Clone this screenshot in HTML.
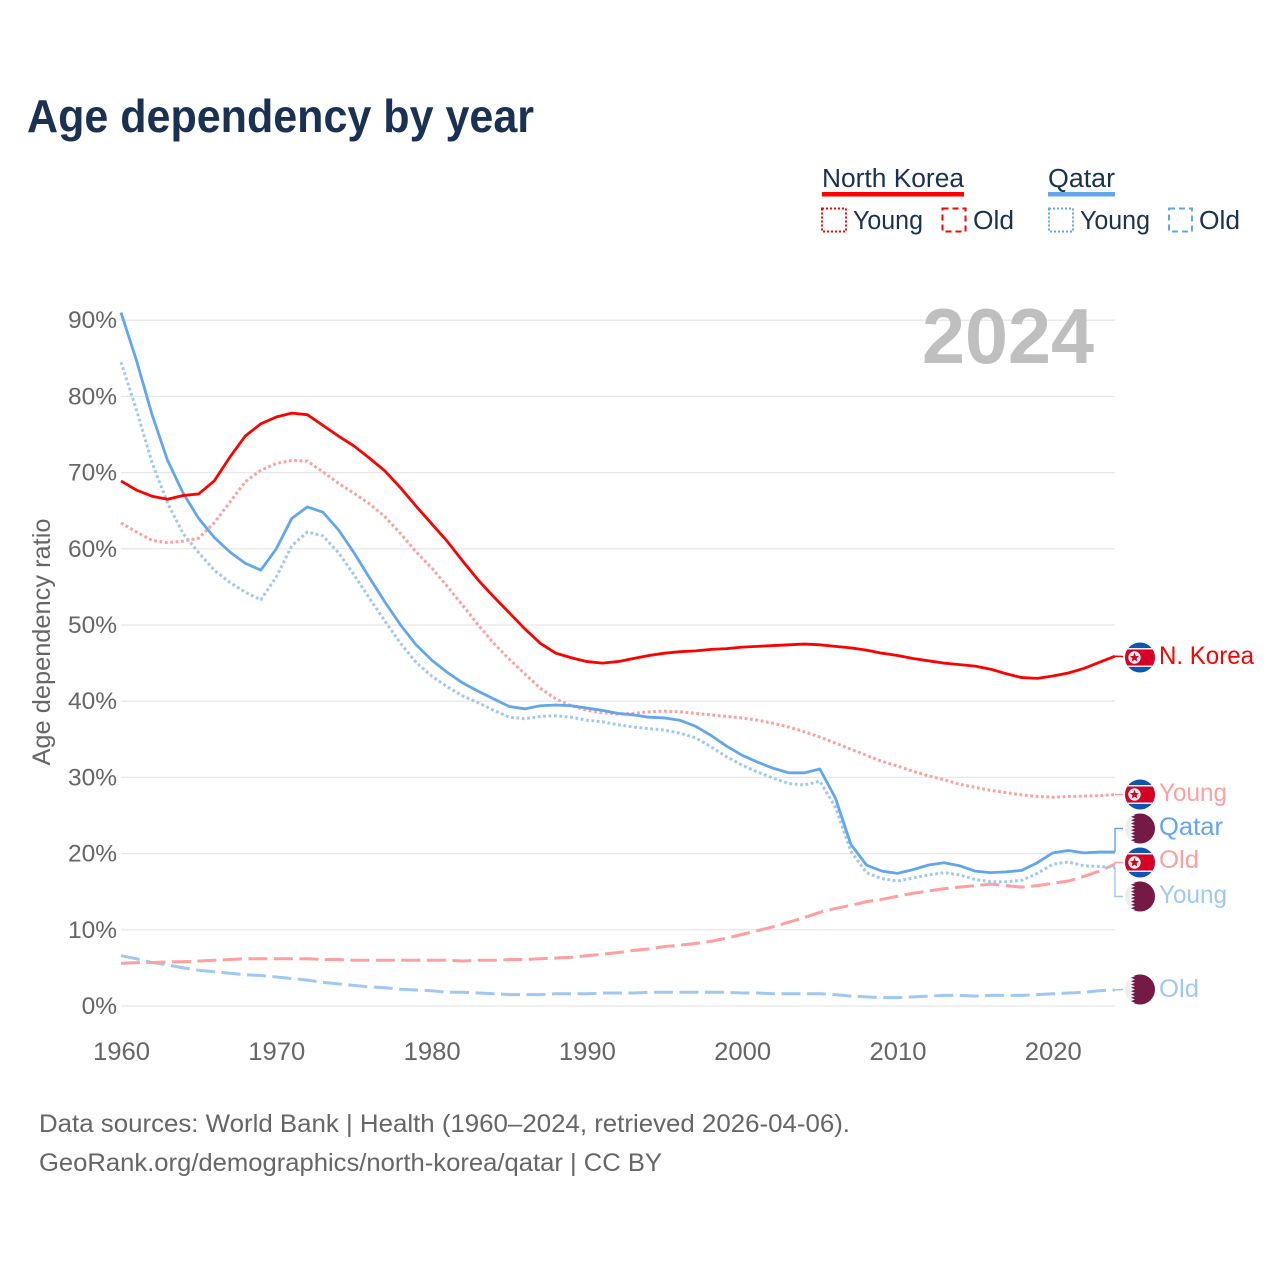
<!DOCTYPE html>
<html lang="en">
<head>
<meta charset="utf-8">
<title>Age dependency by year</title>
<style>
html,body{margin:0;padding:0;background:#fff;}
svg{display:block;}
text{font-family:"Liberation Sans",sans-serif;}
</style>
</head>
<body>
<svg id="chart" xmlns="http://www.w3.org/2000/svg" width="1280" height="1280" viewBox="0 0 1280 1280">
<defs>
<clipPath id="flag-clip"><circle cx="0" cy="0" r="15"></circle></clipPath>
<g id="flag-nk" clip-path="url(#flag-clip)">
<rect x="-15" y="-15" width="30" height="30" fill="#0f56b3"></rect>
<rect x="-15" y="-9.5" width="30" height="19" fill="#f0f0f0"></rect>
<rect x="-15" y="-8" width="30" height="16" fill="#d80027"></rect>
<circle cx="-5.5" cy="0" r="6.2" fill="#f0f0f0"></circle>
<polygon points="-5.5,-4.8 -4.2,-1.5 -1,-1.4 -3.4,0.8 -2.7,4 -5.5,2.3 -8.3,4 -7.6,0.8 -10,-1.4 -6.8,-1.5" fill="#d80027"></polygon>
</g>
<g id="flag-qa" clip-path="url(#flag-clip)">
<rect x="-15" y="-15" width="30" height="30" fill="#eeeeee"></rect>
<polygon points="-9,-15 15,-15 15,15 -9,15 -5,13.3 -9,11.7 -5,10 -9,8.3 -5,6.7 -9,5 -5,3.3 -9,1.7 -5,0 -9,-1.7 -5,-3.3 -9,-5 -5,-6.7 -9,-8.3 -5,-10 -9,-11.7 -5,-13.3" fill="#751a46"></polygon>
</g>
</defs>

<text x="27" y="132" font-size="46" font-weight="700" fill="#1a3152" textLength="507" lengthAdjust="spacingAndGlyphs">Age dependency by year</text>

<g>
<text x="822" y="187" font-size="25.5" fill="#1a3152" textLength="142" lengthAdjust="spacingAndGlyphs">North Korea</text>
<rect x="822" y="192" width="142" height="4.5" fill="#ff0000"></rect>
<text x="1048" y="187" font-size="25.5" fill="#1a3152" textLength="67" lengthAdjust="spacingAndGlyphs">Qatar</text>
<rect x="1048" y="192" width="67" height="4.5" fill="#62a6ee"></rect>
<rect x="822" y="208.5" width="24" height="23" fill="none" stroke="#ff0000" stroke-width="2" stroke-dasharray="2 2"></rect>
<text x="853" y="229" font-size="25.5" fill="#1a3152" textLength="70" lengthAdjust="spacingAndGlyphs">Young</text>
<rect x="942.5" y="208.5" width="23" height="23" fill="none" stroke="#ff0000" stroke-width="2" stroke-dasharray="6 4"></rect>
<text x="973" y="229" font-size="25.5" fill="#1a3152" textLength="41" lengthAdjust="spacingAndGlyphs">Old</text>
<rect x="1049" y="208.5" width="24" height="23" fill="none" stroke="#62a6ee" stroke-width="2" stroke-dasharray="2 2"></rect>
<text x="1080" y="229" font-size="25.5" fill="#1a3152" textLength="70" lengthAdjust="spacingAndGlyphs">Young</text>
<rect x="1169" y="208.5" width="23" height="23" fill="none" stroke="#62a6ee" stroke-width="2" stroke-dasharray="6 4"></rect>
<text x="1199" y="229" font-size="25.5" fill="#1a3152" textLength="41" lengthAdjust="spacingAndGlyphs">Old</text>
</g>

<g id="grid"></g>
<g id="y-ticks"></g>
<g id="x-ticks"></g>

<text transform="translate(50,642) rotate(-90)" text-anchor="middle" font-size="25" fill="#666666" textLength="247" lengthAdjust="spacingAndGlyphs">Age dependency ratio</text>

<text x="922" y="363" font-size="78" font-weight="700" fill="#bfbfbf" textLength="172" lengthAdjust="spacingAndGlyphs">2024</text>

<g id="series"></g>
<g id="connectors"></g>

<g>
<use href="#flag-nk" x="1140" y="657.5"></use>
<text x="1159" y="664" font-size="25" fill="#ff0000" textLength="95" lengthAdjust="spacingAndGlyphs">N. Korea</text>
<use href="#flag-nk" x="1140" y="794.5"></use>
<text x="1159" y="801" font-size="25" fill="#ff9f9f" textLength="68" lengthAdjust="spacingAndGlyphs">Young</text>
<use href="#flag-qa" x="1140" y="828.5"></use>
<text x="1159" y="835" font-size="25" fill="#62a6ee" textLength="64" lengthAdjust="spacingAndGlyphs">Qatar</text>
<use href="#flag-nk" x="1140" y="862.5"></use>
<text x="1159" y="868" font-size="25" fill="#ff9f9f" textLength="40" lengthAdjust="spacingAndGlyphs">Old</text>
<use href="#flag-qa" x="1140" y="896.5"></use>
<text x="1159" y="903" font-size="25" fill="#9fc8f4" textLength="68" lengthAdjust="spacingAndGlyphs">Young</text>
<use href="#flag-qa" x="1140" y="989.5"></use>
<text x="1159" y="997" font-size="25" fill="#9fc8f4" textLength="40" lengthAdjust="spacingAndGlyphs">Old</text>
</g>

<text x="39" y="1132" font-size="25" fill="#666666" textLength="811" lengthAdjust="spacingAndGlyphs">Data sources: World Bank | Health (1960–2024, retrieved 2026-04-06).</text>
<text x="39" y="1171" font-size="25" fill="#666666" textLength="623" lengthAdjust="spacingAndGlyphs">GeoRank.org/demographics/north-korea/qatar | CC BY</text>
</svg>

<script>
var startYear = 1960;
var yTickValues = [0, 10, 20, 30, 40, 50, 60, 70, 80, 90];
var yTickLabels = ["0%", "10%", "20%", "30%", "40%", "50%", "60%", "70%", "80%", "90%"];
var xTickValues = [1960, 1970, 1980, 1990, 2000, 2010, 2020];
var xTickLabels = ["1960", "1970", "1980", "1990", "2000", "2010", "2020"];

var nkTotal = [68.9,67.7,66.9,66.5,67,67.2,68.9,72,74.8,76.4,77.3,77.8,77.6,76.2,74.8,73.5,71.9,70.2,68,65.6,63.3,61,58.4,55.9,53.7,51.6,49.5,47.6,46.3,45.7,45.2,45,45.2,45.6,46,46.3,46.5,46.6,46.8,46.9,47.1,47.2,47.3,47.4,47.5,47.4,47.2,47,46.7,46.3,46,45.6,45.3,45,44.8,44.6,44.2,43.6,43.1,43,43.3,43.7,44.3,45.1,45.9];
var nkYoung = [63.4,62.2,61.1,60.8,61,61.4,63.4,66.1,68.8,70.3,71.2,71.6,71.5,70.1,68.6,67.3,65.9,64.2,62,59.6,57.5,55.1,52.6,50,47.6,45.5,43.6,41.7,40.3,39.4,38.8,38.5,38.3,38.4,38.6,38.7,38.6,38.4,38.2,38,37.8,37.5,37.1,36.6,36,35.3,34.5,33.7,32.9,32.1,31.5,30.8,30.2,29.7,29.1,28.7,28.3,28,27.7,27.5,27.4,27.5,27.55,27.6,27.75];
var nkOld = [5.6,5.7,5.7,5.8,5.8,5.9,6,6.1,6.2,6.2,6.2,6.2,6.2,6.1,6.1,6,6,6,6,6,6,6,5.9,6,6,6.1,6.1,6.2,6.3,6.4,6.6,6.8,7,7.3,7.5,7.8,8,8.2,8.5,8.9,9.4,9.9,10.4,11,11.6,12.3,12.8,13.2,13.7,14,14.4,14.8,15.1,15.4,15.6,15.8,16,15.8,15.6,15.8,16.1,16.4,17,17.7,18.6];
var qaTotal = [91,84.7,77.6,71.6,67.3,64,61.5,59.6,58.1,57.2,60,64,65.5,64.8,62.5,59.5,56.2,53,50,47.4,45.4,43.8,42.4,41.3,40.3,39.3,39,39.4,39.5,39.4,39.1,38.8,38.4,38.2,37.9,37.8,37.5,36.7,35.5,34.1,32.9,32,31.2,30.6,30.6,31.1,27.3,21.2,18.5,17.7,17.4,17.9,18.5,18.8,18.4,17.7,17.5,17.6,17.8,18.8,20.1,20.4,20.1,20.2,20.2];
var qaYoung = [84.5,78.2,71.3,66,62,59.5,57.2,55.6,54.3,53.3,56.3,60.4,62.2,61.7,59.5,56.6,53.5,50.5,47.6,45.1,43.3,41.9,40.7,39.8,38.8,37.9,37.7,38,38.1,37.9,37.5,37.3,36.9,36.6,36.4,36.2,35.8,35.2,34,32.7,31.6,30.7,29.9,29.2,29,29.5,26.1,20.3,17.5,16.7,16.4,16.8,17.2,17.5,17.2,16.6,16.3,16.3,16.5,17.4,18.6,18.9,18.4,18.3,18.2];
var qaOld = [6.6,6.2,5.7,5.4,5,4.7,4.5,4.3,4.1,4,3.8,3.6,3.4,3.1,2.9,2.7,2.5,2.4,2.2,2.1,2,1.8,1.8,1.7,1.6,1.5,1.5,1.5,1.6,1.6,1.6,1.7,1.7,1.7,1.8,1.8,1.8,1.8,1.8,1.8,1.7,1.7,1.6,1.6,1.6,1.6,1.5,1.3,1.2,1.1,1.1,1.2,1.3,1.4,1.4,1.3,1.4,1.4,1.4,1.5,1.6,1.7,1.8,2,2.1];

var NS = "http://www.w3.org/2000/svg";
function xScale(year) { return 121 + (year - startYear) * 15.53; }
function yScale(v) { return 1006 - v * 7.62; }
function make(tag, parentId, attrs) {
  var el = document.createElementNS(NS, tag);
  for (var k in attrs) { el.setAttribute(k, attrs[k]); }
  document.getElementById(parentId).appendChild(el);
  return el;
}

yTickValues.forEach(function (v, i) {
  var line = make("line", "grid", { x1: 121, x2: 1115, y1: yScale(v), y2: yScale(v), stroke: "#e8e8e8", "stroke-width": 1.3 });
  
  
  var lab = make("text", "y-ticks", { x: 117, y: yScale(v) + 8, "text-anchor": "end", "font-size": 24.5, fill: "#666666" });
  lab.textContent = yTickLabels[i];
  
  
});

xTickValues.forEach(function (year, i) {
  var lab = make("text", "x-ticks", { x: xScale(year) + 0.5, y: 1060, "text-anchor": "middle", "font-size": 25, fill: "#666666", textLength: 57, lengthAdjust: "spacingAndGlyphs" });
  lab.textContent = xTickLabels[i];
  
  
});

function drawSeries(values, color, dash, width, name) {
  var pts = values.map(function (v, i) { return xScale(startYear + i).toFixed(2) + "," + yScale(v).toFixed(2); }).join(" ");
  var attrs = { points: pts, fill: "none", stroke: color, "stroke-width": width, "stroke-linejoin": "round" };
  if (dash) { attrs["stroke-dasharray"] = dash; }
  var line = make("polyline", "series", attrs);
  
  
}
drawSeries(qaOld, "#9fc8f4", "19 6.5", 3, "line-qatar-old");
drawSeries(nkOld, "#ff9f9f", "19 6.5", 3, "line-north-korea-old");
drawSeries(qaYoung, "#9fc8f4", "2.8 2.6", 3, "line-qatar-young");
drawSeries(nkYoung, "#ff9f9f", "2.8 2.6", 3, "line-north-korea-young");
drawSeries(qaTotal, "#62a6ee", null, 2.8, "line-qatar-total");
drawSeries(nkTotal, "#ff0000", null, 2.8, "line-north-korea-total");

function drawConnector(values, labelY, color, name) {
  var endY = yScale(values[values.length - 1]);
  var pts = "1115," + endY.toFixed(2) + " 1115," + labelY + " 1123," + labelY;
  var c = make("polyline", "connectors", { points: pts, fill: "none", stroke: color, "stroke-width": 1.4 });
  
  
}
function drawLead(values, labelY, color, width, name) {
  var endY = yScale(values[values.length - 1]);
  var pts = "1115," + endY.toFixed(2) + " 1123," + labelY;
  var c = make("polyline", "connectors", { points: pts, fill: "none", stroke: color, "stroke-width": width });
  
  
}
drawLead(nkTotal, 656.5, "#ff0000", 1.6, "connector-north-korea-total");
drawLead(nkYoung, 794.5, "#ff9f9f", 1.4, "connector-north-korea-young");
drawLead(qaOld, 989.5, "#9fc8f4", 1.4, "connector-qatar-old");
drawConnector(qaTotal, 828.5, "#62a6ee", "connector-qatar-total");
drawConnector(nkOld, 862.5, "#ff9f9f", "connector-north-korea-old");
drawConnector(qaYoung, 896.5, "#9fc8f4", "connector-qatar-young");
</script>
</body>
</html>
